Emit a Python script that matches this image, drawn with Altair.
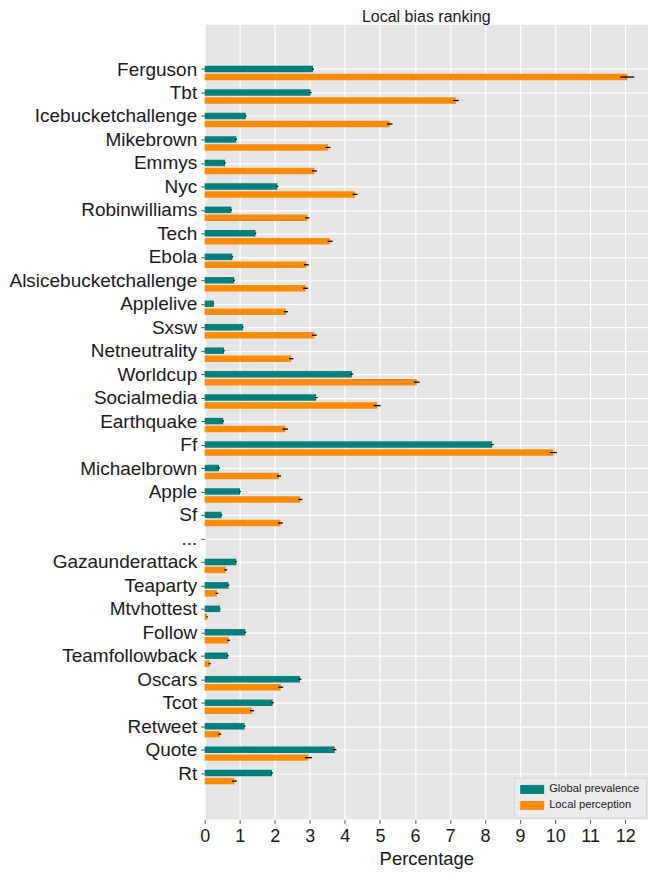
import json
import altair as alt
import pandas as pd

categories = ["Ferguson", "Tbt", "Icebucketchallenge", "Mikebrown", "Emmys", "Nyc",
              "Robinwilliams", "Tech", "Ebola", "Alsicebucketchallenge", "Applelive",
              "Sxsw", "Netneutrality", "Worldcup", "Socialmedia", "Earthquake", "Ff",
              "Michaelbrown", "Apple", "Sf", "...", "Gazaunderattack", "Teaparty",
              "Mtvhottest", "Follow", "Teamfollowback", "Oscars", "Tcot", "Retweet",
              "Quote", "Rt"]

# values per category (None for the "..." separator row)
global_prev = [3.09, 3.02, 1.17, 0.90, 0.58, 2.07, 0.76, 1.45, 0.79, 0.84, 0.26,
               1.09, 0.55, 4.20, 3.18, 0.53, 8.20, 0.41, 1.01, 0.48, None, 0.90,
               0.68, 0.44, 1.16, 0.66, 2.72, 1.94, 1.14, 3.71, 1.92]
global_err = [0.03, 0.03, 0.02, 0.02, 0.02, 0.03, 0.02, 0.02, 0.02, 0.02, 0.01,
              0.02, 0.02, 0.04, 0.04, 0.02, 0.05, 0.02, 0.02, 0.02, None, 0.02,
              0.02, 0.01, 0.02, 0.02, 0.04, 0.03, 0.02, 0.05, 0.03]
local_perc = [12.06, 7.17, 5.28, 3.52, 3.13, 4.29, 2.93, 3.58, 2.90, 2.88, 2.32,
              3.13, 2.47, 6.05, 4.92, 2.30, 9.95, 2.12, 2.73, 2.16, None, 0.60,
              0.35, 0.07, 0.68, 0.14, 2.17, 1.35, 0.43, 2.96, 0.85]
local_err = [0.2, 0.08, 0.08, 0.07, 0.07, 0.07, 0.06, 0.07, 0.07, 0.07, 0.06,
             0.07, 0.06, 0.08, 0.1, 0.08, 0.1, 0.06, 0.06, 0.07, None, 0.04,
             0.04, 0.02, 0.04, 0.03, 0.07, 0.06, 0.04, 0.1, 0.07]

series_names = ["Global prevalence", "Local perception"]
series_colors = ["#00807c", "#ff8c00"]

rows = []
for i, (c, gv, ge, lv, le) in enumerate(zip(categories, global_prev, global_err,
                                            local_perc, local_err)):
    if gv is not None:
        rows.append({"cat": c, "idx": i, "series": series_names[0], "value": gv,
                     "lo": gv - ge, "hi": gv + ge})
    if lv is not None:
        rows.append({"cat": c, "idx": i, "series": series_names[1], "value": lv,
                     "lo": lv - le, "hi": lv + le})
df = pd.DataFrame(rows)

FONT = "Liberation Sans"

y_scale = alt.Scale(domain=[-1.68, len(categories) - 1 + 1.76], reverse=True,
                    nice=False, zero=False)
y_axis = alt.Axis(title=None, values=list(range(len(categories))),
                  labelExpr=json.dumps(categories) + "[datum.value]",
                  labelOverlap=False, labelFontSize=19, labelFont=FONT,
                  labelLimit=400, labelColor="#1a1a1a", tickSize=4,
                  tickColor="#555", labelPadding=4, domain=False, grid=True,
                  gridColor="white", gridWidth=1.2)
x_scale = alt.Scale(domain=[0, 12.65], nice=False)
x_axis = alt.Axis(title="Percentage", values=list(range(13)),
                  labelOverlap=False, labelFlush=False,
                  labelFontSize=18, labelFont=FONT, labelColor="#1a1a1a",
                  titleFontSize=18.5, titleFont=FONT, titleFontWeight="normal",
                  titleColor="#1a1a1a", tickSize=4, tickColor="#555",
                  labelPadding=4, titlePadding=4, domain=False,
                  gridColor="white", gridWidth=1.2)

y_enc = alt.Y("idx:Q", scale=y_scale, axis=y_axis)
color_enc = alt.Color("series:N",
                      scale=alt.Scale(domain=series_names, range=series_colors),
                      legend=alt.Legend(title=None, orient="none", legendX=310,
                                        legendY=754, labelFontSize=11.2, labelFont=FONT,
                                        labelColor="#1a1a1a",
                                        symbolType="M-2,-0.75H2V0.75H-2Z",
                                        symbolSize=144, symbolStrokeWidth=0,
                                        symbolOffset=6,
                                        fillColor="#ebebeb", strokeColor="#d4d4d4",
                                        padding=6, rowPadding=4, labelOffset=11))

base = alt.Chart(df)
g = base.transform_filter(alt.datum.series == series_names[0])
l = base.transform_filter(alt.datum.series == series_names[1])

g_bar = g.mark_bar(size=6.5, orient="horizontal").encode(
    y=y_enc, x=alt.X("value:Q", scale=x_scale, axis=x_axis), color=color_enc)
l_bar = l.mark_bar(size=6.5, orient="horizontal", yOffset=8).encode(
    y=y_enc, x=alt.X("value:Q", scale=x_scale, axis=x_axis), color=color_enc)
g_err = g.mark_rule(color="black", strokeWidth=1.3).encode(
    y=y_enc, x=alt.X("lo:Q", scale=x_scale, axis=x_axis), x2="hi:Q")
l_err = l.mark_rule(color="black", strokeWidth=1.3, yOffset=8).encode(
    y=y_enc, x=alt.X("lo:Q", scale=x_scale, axis=x_axis), x2="hi:Q")

chart = alt.layer(g_bar, l_bar, g_err, l_err).properties(
    width=444, height=796,
    padding={"left": 0, "top": 0, "right": 0, "bottom": 0},
    background="white",
    title=alt.TitleParams("Local bias ranking", fontSize=16, font=FONT,
                          fontWeight="normal", color="#1a1a1a", anchor="middle",
                          offset=0),
).configure_view(fill="#e5e5e5", stroke=None)

chart.save("out.html", embed_options={"renderer": "svg", "actions": False})
